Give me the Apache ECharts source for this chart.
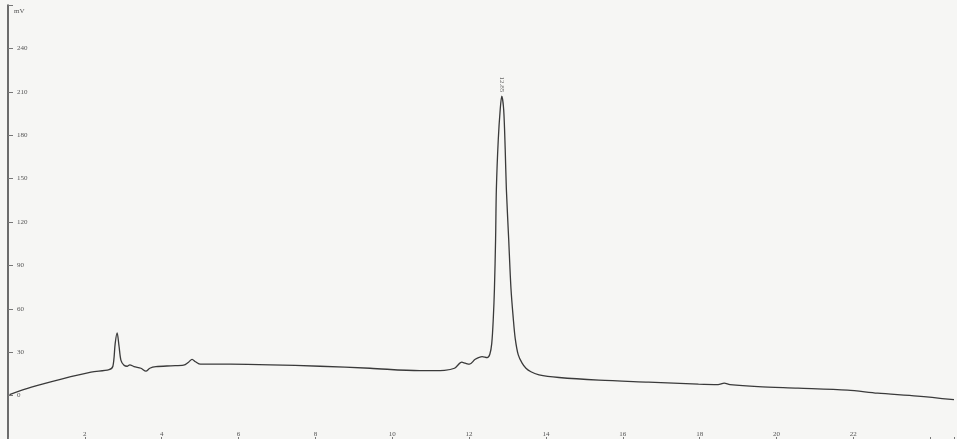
<!DOCTYPE html>
<html>
<head>
<meta charset="utf-8">
<script src="https://cdn.jsdelivr.net/npm/echarts@6/dist/echarts.min.js"></script>
<style>
  html, body { margin: 0; padding: 0; background: #f6f6f4; }
  #chart { width: 957px; height: 439px; }
</style>
</head>
<body>
<div id="chart"></div>
<script>
// Retention time (min) and detector signal (mV) of the chromatogram trace
const times = [0.04, 0.61, 1.39, 2.16, 2.63, 2.73, 2.79, 2.84, 2.89, 2.94, 3.02, 3.10, 3.17, 3.28, 3.46, 3.59, 3.69, 3.85, 4.24, 4.57, 4.70, 4.79, 4.88, 5.01, 5.79, 6.83, 8.12, 9.42, 10.71, 11.36, 11.62, 11.81, 11.90, 12.01, 12.16, 12.34, 12.47, 12.54, 12.59, 12.63, 12.66, 12.69, 12.71, 12.76, 12.81, 12.85, 12.90, 12.94, 12.97, 13.03, 13.09, 13.15, 13.20, 13.28, 13.38, 13.48, 13.61, 13.82, 14.34, 15.38, 16.67, 17.97, 18.48, 18.64, 18.79, 19.52, 20.56, 21.85, 22.63, 23.67, 24.62];
const signal = [0.7, 5.8, 11.4, 16.2, 17.9, 20.3, 36.1, 43.3, 34.1, 24.4, 21.0, 20.3, 21.3, 20.0, 18.9, 16.9, 18.9, 20.0, 20.6, 21.0, 23.1, 25.1, 23.4, 21.7, 21.7, 21.3, 20.3, 18.9, 17.2, 17.5, 18.9, 23.1, 22.4, 21.7, 25.1, 27.0, 26.3, 28.6, 36.1, 53.3, 74.0, 108.4, 142.8, 177.2, 197.8, 207.0, 197.8, 170.3, 142.8, 108.4, 74.0, 53.3, 39.6, 28.1, 22.4, 18.9, 16.5, 14.3, 12.5, 10.7, 9.3, 7.9, 7.6, 8.6, 7.6, 6.2, 5.2, 3.8, 1.7, -0.3, -2.8];

// Main peak annotation (retention time at the apex)
const peakTime = 12.85;
const peakLabel = '12.85';

// Axis tick labels
const yTicks = [0, 30, 60, 90, 120, 150, 180, 210, 240];
const xTicks = [2, 4, 6, 8, 10, 12, 14, 16, 18, 20, 22];

const serif = '"Liberation Serif", "DejaVu Serif", serif';

const trace = times.map((t, i) => [t, signal[i]]);
const peakValue = signal[times.indexOf(peakTime)];

const chart = echarts.init(document.getElementById('chart'));
chart.setOption({
  backgroundColor: '#f6f6f4',
  animation: false,
  grid: { left: 8, right: 0, top: 5, height: 436 },
  xAxis: {
    type: 'value',
    min: 0,
    max: 24.62,
    interval: 2,
    axisLine: { show: false, onZero: false },
    axisTick: { show: true, inside: true, length: 2, lineStyle: { color: '#777' } },
    splitLine: { show: false },
    axisLabel: {
      inside: true,
      margin: 1,
      fontFamily: serif,
      fontSize: 7,
      color: '#555',
      formatter: v => (xTicks.includes(v) ? String(v) : '')
    }
  },
  yAxis: {
    type: 'value',
    min: -30,
    max: 270,
    interval: 30,
    name: 'mV',
    nameLocation: 'end',
    nameGap: -10,
    nameTextStyle: { fontFamily: serif, fontSize: 7, color: '#555', align: 'left', padding: [0, 0, 0, 6] },
    axisLine: { show: true, lineStyle: { color: '#4a4a4a', width: 1.6 } },
    axisTick: { show: true, inside: true, length: 5, lineStyle: { color: '#777' } },
    splitLine: { show: false },
    axisLabel: {
      inside: true,
      margin: 9,
      fontFamily: serif,
      fontSize: 7,
      color: '#555',
      formatter: v => (yTicks.includes(v) ? String(v) : '')
    }
  },
  series: [
    {
      type: 'line',
      data: trace,
      showSymbol: false,
      smooth: 0.3,
      lineStyle: { color: '#3a3a3a', width: 1.3 },
      clip: false
    },
    {
      // retention-time label standing above the apex
      type: 'scatter',
      data: [[peakTime, peakValue]],
      symbolSize: 0,
      silent: true,
      label: {
        show: true,
        formatter: peakLabel,
        position: 'top',
        distance: 4,
        rotate: -90,
        align: 'right',
        verticalAlign: 'middle',
        fontFamily: serif,
        fontSize: 7,
        color: '#444'
      }
    }
  ]
});
</script>
</body>
</html>
